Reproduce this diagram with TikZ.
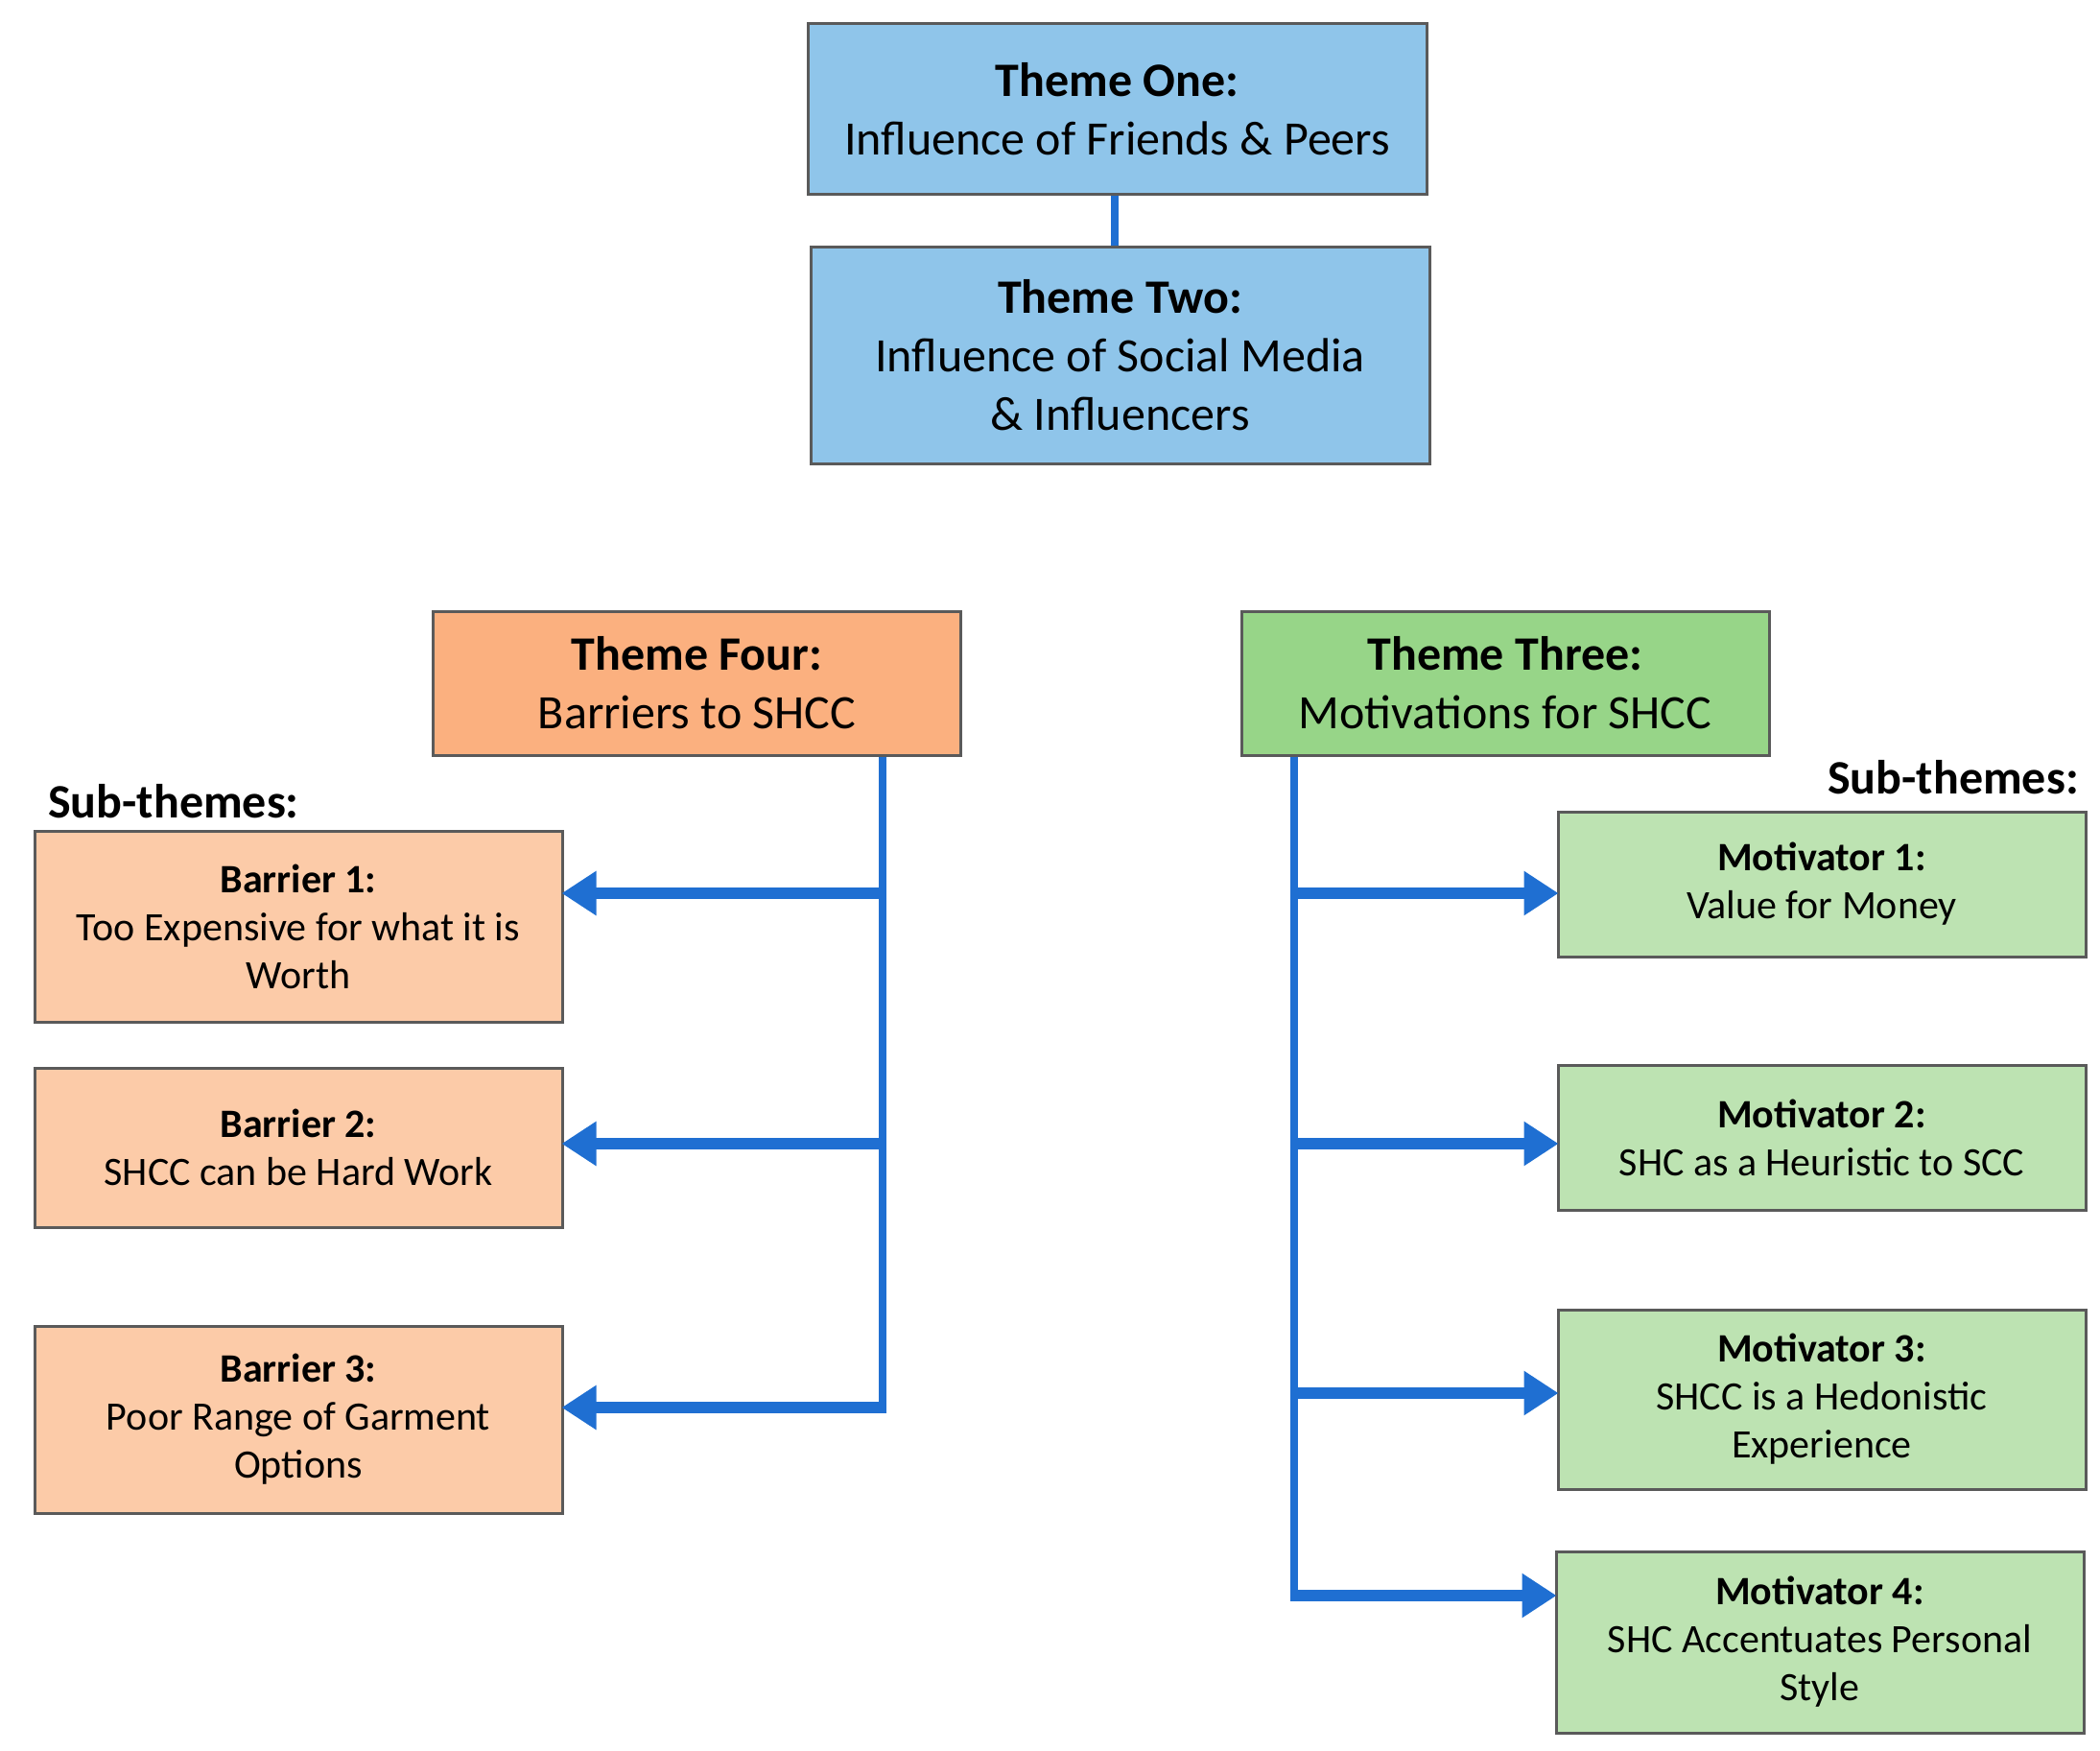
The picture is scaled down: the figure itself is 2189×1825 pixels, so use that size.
\documentclass[tikz,border=0pt]{standalone}
\usepackage{fontspec}
\setmainfont{Carlito}
\usetikzlibrary{arrows.meta}

\definecolor{link color}{HTML}{1F6FD2}
\definecolor{box border color}{HTML}{5A5A5A}
\definecolor{theme blue}{HTML}{8FC5EA}
\definecolor{theme orange}{HTML}{FBB07F}
\definecolor{barrier orange}{HTML}{FCCBA8}
\definecolor{theme green}{HTML}{97D588}
\definecolor{motivator green}{HTML}{BDE3B2}
\tikzset{
    x={1pt},
    y={-1pt},
    theme box/.style={
        draw=box border color, fill={#1},
        line width={3pt},
        align=center,
        inner sep=0pt,
        font=\fontsize{50}{61}\selectfont,
        minimum width={550},
    },
    sub box/.style={
        theme box={#1},
        font=\fontsize{42}{50}\selectfont,
    },
    sub label/.style={
        font=\fontsize{50}{56}\selectfont\bfseries,
        inner sep=0pt,
    },
    trunk/.style={
        draw=link color,
        line width={8pt},
    },
    branch arrow/.style={
        draw=link color,
        line width={12pt},
        -{Triangle[length=36pt,width=44pt]},
        shorten >=-2pt,
    },
}

\begin{document}
\begin{tikzpicture}
\useasboundingbox (0,0) rectangle (2189,1825);
% themes
\node[theme box={theme blue}, minimum width={645}, minimum height={177}] (t1) at (1164.5,113.5) {\textbf{Theme One:}\\Influence of Friends \& Peers};
\node[theme box={theme blue}, minimum width={645}, minimum height={226}] (t2) at (1167.5,370) {\textbf{Theme Two:}\\Influence of Social Media\\\& Influencers};
\node[theme box={theme orange}, minimum height={150}] (t4) at (726.5,712) {\textbf{Theme Four:}\\Barriers to SHCC};
\node[theme box={theme green}, minimum height={150}] (t3) at (1569,712) {\textbf{Theme Three:}\\Motivations for SHCC};
% sub-themes
\node[sub label, anchor=west] (sl) at (50,835) {Sub-themes:};
\node[sub label, anchor=east] (sr) at (2167,810) {Sub-themes:};
\node[sub box={barrier orange}, minimum height={199}] (b1) at (311,965.5) {\textbf{Barrier 1:}\\Too Expensive for what it is\\Worth};
\node[sub box={barrier orange}, minimum height={166}] (b2) at (311,1196) {\textbf{Barrier 2:}\\SHCC can be Hard Work};
\node[sub box={barrier orange}, minimum height={195}] (b3) at (311,1479.5) {\textbf{Barrier 3:}\\Poor Range of Garment\\Options};
\node[sub box={motivator green}, minimum height={151}] (m1) at (1899,921.5) {\textbf{Motivator 1:}\\Value for Money};
\node[sub box={motivator green}, minimum height={151}] (m2) at (1899,1185.5) {\textbf{Motivator 2:}\\SHC as a Heuristic to SCC};
\node[sub box={motivator green}, minimum height={187}] (m3) at (1899,1458.5) {\textbf{Motivator 3:}\\SHCC is a Hedonistic\\Experience};
\node[sub box={motivator green}, minimum height={189}] (m4) at (1897,1711.5) {\textbf{Motivator 4:}\\SHC Accentuates Personal\\Style};
% junctions
\coordinate (l1) at (920,931);
\coordinate (l2) at (920,1192);
\coordinate (l3) at (920,1467);
\coordinate (r1) at (1349,931);
\coordinate (r2) at (1349,1192);
\coordinate (r3) at (1349,1452);
\coordinate (r4) at (1349,1663);
% connectors
\path[trunk] ([xshift=-3pt]t1.south) -- ([xshift=-3pt]t1.south |- t2.north);
\path[trunk] (l3 |- t4.south) -- ([yshift=4pt]l3);
\path[trunk] (r4 |- t3.south) -- ([yshift=4pt]r4);
\path[branch arrow] ([xshift=4pt]l1) -- (l1 -| b1.east);
\path[branch arrow] ([xshift=4pt]l2) -- (l2 -| b2.east);
\path[branch arrow] ([xshift=4pt]l3) -- (l3 -| b3.east);
\path[branch arrow] ([xshift=-4pt]r1) -- (r1 -| m1.west);
\path[branch arrow] ([xshift=-4pt]r2) -- (r2 -| m2.west);
\path[branch arrow] ([xshift=-4pt]r3) -- (r3 -| m3.west);
\path[branch arrow] ([xshift=-4pt]r4) -- (r4 -| m4.west);
\end{tikzpicture}
\end{document}
